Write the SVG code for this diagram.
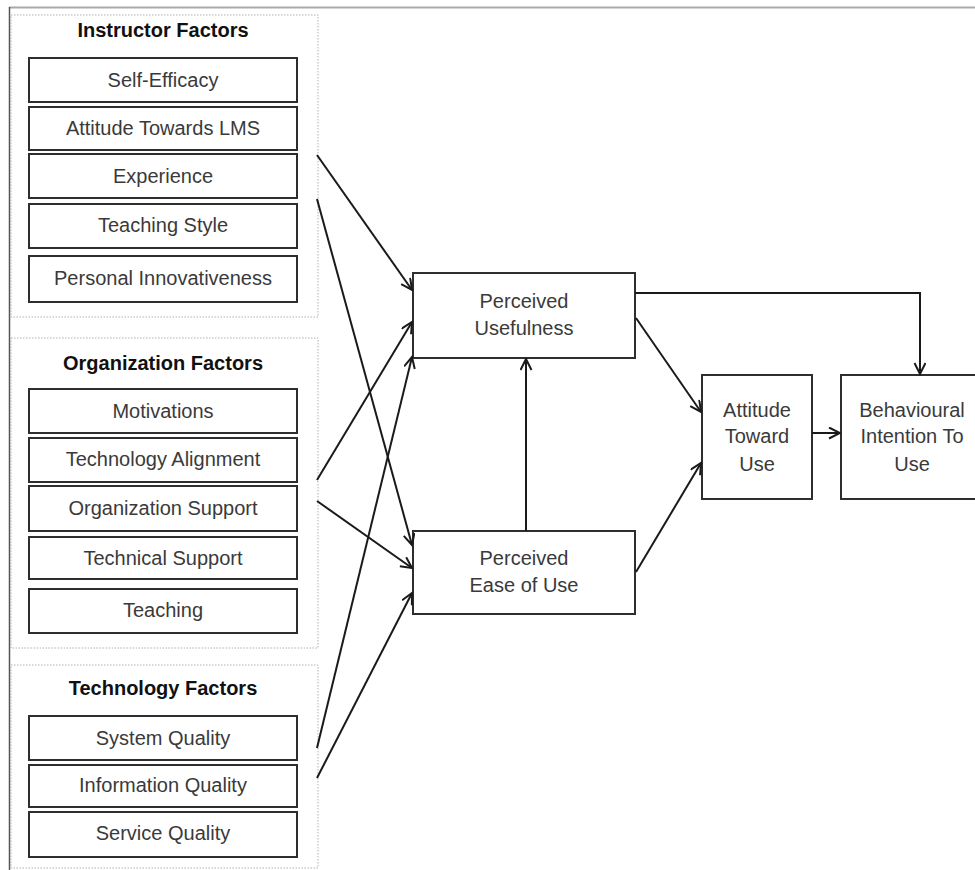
<svg xmlns="http://www.w3.org/2000/svg" width="975" height="870" viewBox="0 0 975 870">
<style>
.frame{fill:none;stroke:#b0b0b0;stroke-width:1;stroke-dasharray:1.5,1.5}
.box{fill:#fff;stroke:#2e2e2e;stroke-width:2}
.lbl{font-family:"Liberation Sans",Arial,sans-serif;font-size:20px;fill:#3a3a3a;text-anchor:middle}
.ttl{font-family:"Liberation Sans",Arial,sans-serif;font-size:20px;font-weight:bold;fill:#111;text-anchor:middle}
.con{fill:none;stroke:#1a1a1a;stroke-width:2;marker-end:url(#arr)}
</style>
<defs>
<marker id="arr" markerUnits="userSpaceOnUse" markerWidth="14" markerHeight="14" refX="12" refY="6" orient="auto">
<path d="M1,0.5 L12,6 L1,11.5" fill="none" stroke="#1a1a1a" stroke-width="2"/>
</marker>
</defs>
<rect width="975" height="870" fill="#fff"/>
<line x1="9" y1="7.5" x2="975" y2="7.5" stroke="#aaa" stroke-width="2"/>
<line x1="9.5" y1="7" x2="9.5" y2="870" stroke="#555" stroke-width="1.5"/>

<g id="instructor-factors">
<rect class="frame" x="11" y="15" width="307" height="302"/>
<text class="ttl" x="163" y="37">Instructor Factors</text>
</g>
<g id="self-efficacy"><rect class="box" x="29" y="58" width="268" height="44"/><text class="lbl" x="163" y="87">Self-Efficacy</text></g>
<g id="attitude-lms"><rect class="box" x="29" y="107" width="268" height="43"/><text class="lbl" x="163" y="135">Attitude Towards LMS</text></g>
<g id="experience"><rect class="box" x="29" y="154" width="268" height="44"/><text class="lbl" x="163" y="183">Experience</text></g>
<g id="teaching-style"><rect class="box" x="29" y="204" width="268" height="44"/><text class="lbl" x="163" y="232">Teaching Style</text></g>
<g id="personal-innovativeness"><rect class="box" x="29" y="256" width="268" height="46"/><text class="lbl" x="163" y="285">Personal Innovativeness</text></g>

<g id="organization-factors">
<rect class="frame" x="11" y="338" width="307" height="310"/>
<text class="ttl" x="163" y="370">Organization Factors</text>
</g>
<g id="motivations"><rect class="box" x="29" y="389" width="268" height="44"/><text class="lbl" x="163" y="418">Motivations</text></g>
<g id="technology-alignment"><rect class="box" x="29" y="438" width="268" height="44"/><text class="lbl" x="163" y="466">Technology Alignment</text></g>
<g id="organization-support"><rect class="box" x="29" y="486" width="268" height="45"/><text class="lbl" x="163" y="515">Organization Support</text></g>
<g id="technical-support"><rect class="box" x="29" y="537" width="268" height="42"/><text class="lbl" x="163" y="565">Technical Support</text></g>
<g id="teaching"><rect class="box" x="29" y="589" width="268" height="44"/><text class="lbl" x="163" y="617">Teaching</text></g>

<g id="technology-factors">
<rect class="frame" x="11" y="665" width="307" height="203"/>
<text class="ttl" x="163" y="695">Technology Factors</text>
</g>
<g id="system-quality"><rect class="box" x="29" y="716" width="268" height="44"/><text class="lbl" x="163" y="745">System Quality</text></g>
<g id="information-quality"><rect class="box" x="29" y="765" width="268" height="42"/><text class="lbl" x="163" y="792">Information Quality</text></g>
<g id="service-quality"><rect class="box" x="29" y="812" width="268" height="45"/><text class="lbl" x="163" y="840">Service Quality</text></g>

<g id="perceived-usefulness"><rect class="box" x="413" y="273" width="222" height="85"/><text class="lbl" x="524" y="308">Perceived</text><text class="lbl" x="524" y="335">Usefulness</text></g>
<g id="perceived-ease"><rect class="box" x="413" y="531" width="222" height="83"/><text class="lbl" x="524" y="565">Perceived</text><text class="lbl" x="524" y="592">Ease of Use</text></g>
<g id="attitude-toward-use"><rect class="box" x="702" y="375" width="110" height="124"/><text class="lbl" x="757" y="417">Attitude</text><text class="lbl" x="757" y="443">Toward</text><text class="lbl" x="757" y="471">Use</text></g>
<g id="behavioural-intention"><rect class="box" x="841" y="375" width="150" height="124"/><text class="lbl" x="912" y="417">Behavioural</text><text class="lbl" x="912" y="443">Intention To</text><text class="lbl" x="912" y="471">Use</text></g>

<g id="connectors">
<line class="con" x1="317" y1="155" x2="412" y2="290"/>
<line class="con" x1="317" y1="199" x2="412" y2="545"/>
<line class="con" x1="317" y1="480" x2="412" y2="322"/>
<line class="con" x1="317" y1="501" x2="412" y2="568"/>
<line class="con" x1="317" y1="748" x2="412" y2="357"/>
<line class="con" x1="317" y1="778" x2="412" y2="593"/>
<line class="con" x1="526" y1="531" x2="526" y2="359"/>
<polyline class="con" points="635,293 920,293 920,374"/>
<line class="con" x1="636" y1="318" x2="701" y2="412"/>
<line class="con" x1="636" y1="572" x2="701" y2="463"/>
<line class="con" x1="812" y1="433" x2="840" y2="433"/>
</g>
</svg>
